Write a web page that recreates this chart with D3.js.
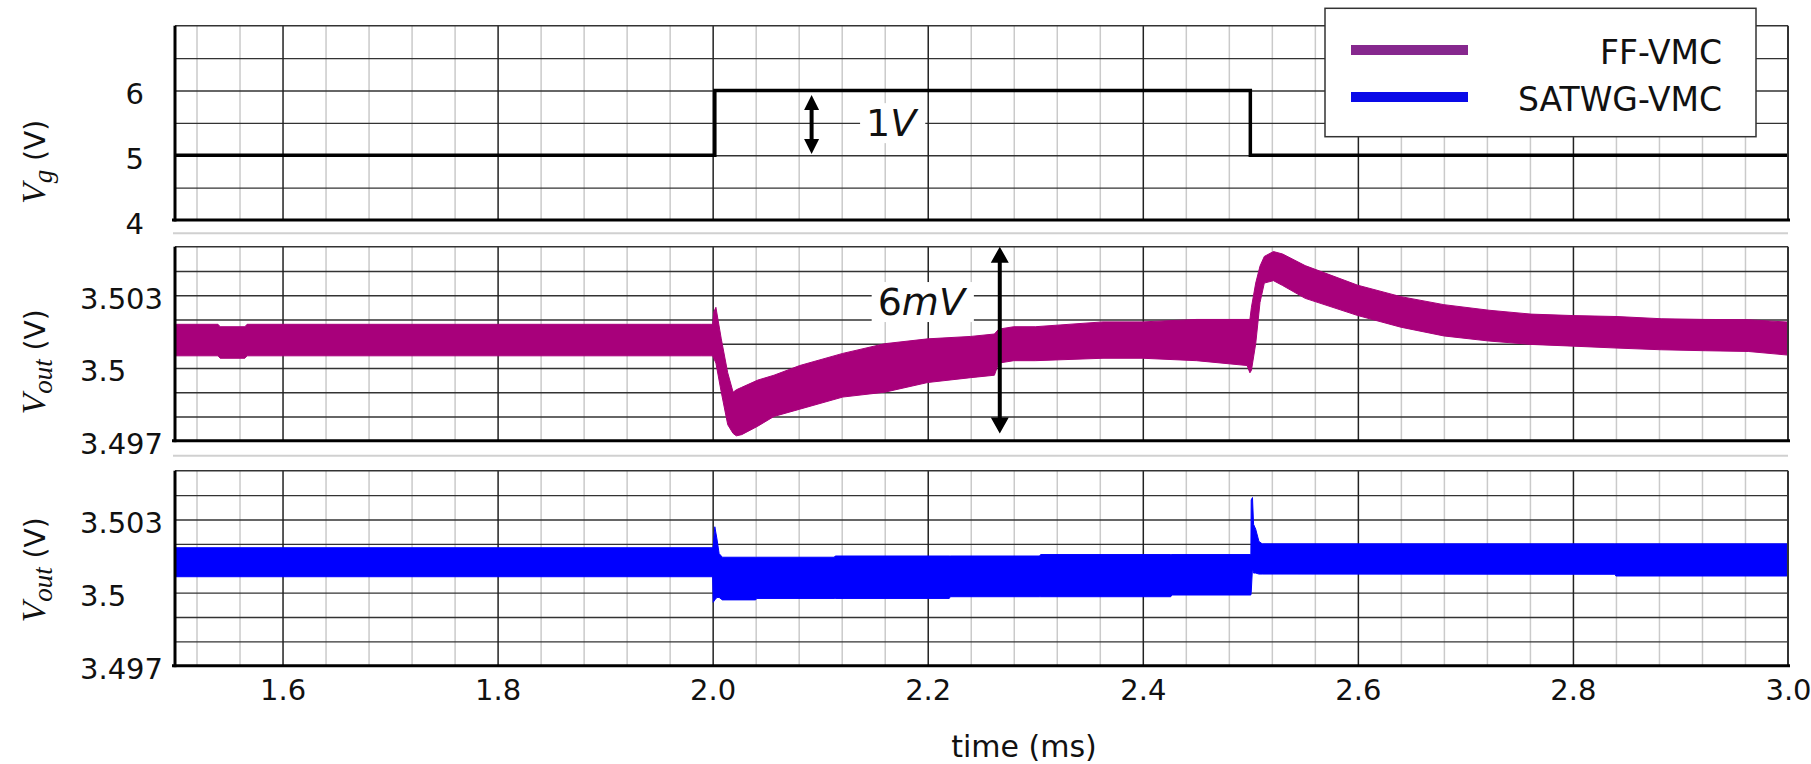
<!DOCTYPE html>
<html lang="en">
<head>
<meta charset="utf-8">
<title>Vg step and Vout response</title>
<script src="https://cdn.jsdelivr.net/npm/d3@7"></script>
<style>
body { margin: 0; background: #fff; }
text { font-family: "DejaVu Sans", sans-serif; fill: #111; }
</style>
</head>
<body>
<script>
// ---- data ----
var timeTicks = [1.6, 1.8, 2.0, 2.2, 2.4, 2.6, 2.8, 3.0];

var vgTicks = [4, 5, 6];
var vgTickLabels = ["4", "5", "6"];
var voutTicks = [3.497, 3.5, 3.503];
var voutTickLabels = ["3.497", "3.5", "3.503"];

var seriesNames = ["FF-VMC", "SATWG-VMC"];

// input voltage step
var vgTime  = [1.5, 2.002, 2.002, 2.5, 2.5, 3.0];
var vgValue = [5, 5, 6, 6, 5, 5];

// FF-VMC output: ripple band (upper / lower envelope)
var ffTime  = [1.50, 1.540, 1.542, 1.565, 1.567, 1.990, 2.000, 2.001, 2.003, 2.008, 2.014, 2.019,
               2.022, 2.027, 2.042, 2.057, 2.081, 2.121, 2.160, 2.200, 2.240, 2.262, 2.266, 2.280,
               2.300, 2.363, 2.400, 2.450, 2.497, 2.4996, 2.501, 2.505, 2.509, 2.513, 2.5215, 2.530,
               2.551, 2.600, 2.640, 2.680, 2.722, 2.761, 2.800, 2.841, 2.882, 2.923, 2.963, 3.000];
var ffUpper = [3.5018, 3.5018, 3.5017, 3.5017, 3.5018, 3.5018, 3.5018, 3.5023, 3.5025, 3.5012, 3.4998, 3.4990,
               3.4991, 3.4992, 3.4995, 3.4997, 3.5001, 3.5006, 3.5010, 3.5012, 3.5013, 3.5014, 3.5016, 3.5017,
               3.5017, 3.5019, 3.5019, 3.5020, 3.5020, 3.5020, 3.5025, 3.5035, 3.5042, 3.5046, 3.5048, 3.5047,
               3.50422, 3.50341, 3.50294, 3.50261, 3.50238, 3.50222, 3.50216, 3.50212, 3.50203, 3.50200, 3.50199, 3.50189];
var ffLower = [3.5005, 3.5005, 3.5004, 3.5004, 3.5005, 3.5005, 3.5005, 3.5004, 3.5002, 3.4990, 3.49766, 3.4973,
               3.4972, 3.49725, 3.4976, 3.4980, 3.4983, 3.4988, 3.4990, 3.4994, 3.4996, 3.4997, 3.5002, 3.5003,
               3.5003, 3.5004, 3.5004, 3.5003, 3.5001, 3.4998, 3.4999, 3.5010, 3.5027, 3.5035, 3.5036, 3.5034,
               3.50287, 3.50216, 3.50168, 3.50132, 3.50111, 3.50097, 3.50090, 3.50082, 3.50075, 3.50071, 3.50068, 3.50053];

// SATWG-VMC output
var satTime  = [1.50, 2.000, 2.0005, 2.002, 2.004, 2.006, 2.009, 2.040, 2.041, 2.113, 2.114, 2.220, 2.221,
                2.304, 2.305, 2.426, 2.427, 2.5005, 2.5008, 2.502, 2.503, 2.505, 2.508, 2.511, 2.839, 2.840, 3.000];
var satUpper = [3.50184, 3.50184, 3.5019, 3.5027, 3.5022, 3.5016, 3.50145, 3.50145, 3.50145, 3.50145, 3.5015, 3.5015, 3.5015,
                3.5015, 3.50156, 3.50156, 3.50156, 3.50156, 3.5038, 3.5039, 3.5028, 3.5026, 3.5021, 3.5020, 3.5020, 3.5020, 3.5020];
var satLower = [3.50065, 3.50065, 3.4996, 3.4997, 3.4998, 3.4998, 3.4997, 3.4997, 3.49976, 3.49976, 3.49976, 3.49976, 3.49983,
                3.49983, 3.49983, 3.49983, 3.4999, 3.4999, 3.5000, 3.5010, 3.5008, 3.5008, 3.50076, 3.50076, 3.50075, 3.50068, 3.50068];

// annotations (data coordinates)
var vgArrow   = {t: 2.092, lo: 5.02, hi: 5.93, labelT: 2.166, labelV: 5.5, num: "1", unit: "V"};
var voutArrow = {t: 2.267, lo: 3.4973, hi: 3.505, labelT: 2.194, labelV: 3.50273, num: "6", unit: "mV"};

// ---- layout ----
var w = 1811, h = 764;
var left = 175, right = 1788;
var purple = "#a8007b", blue = "#0000ff";

var svg = d3.select("body").append("svg")
    .attr("width", w)
    .attr("height", h);

var x = d3.scaleLinear().domain([1.5, 3.0]).range([left, right]);

var panels = [
    {top: 25.7, bottom: 220, domain: [4, 7], step: 0.5, ticks: vgTicks, labels: vgTickLabels, labelX: 144, anchor: "end", titleY: 162, sub: "g"},
    {top: 246.7, bottom: 440.7, domain: [3.497, 3.505], step: 0.001, ticks: voutTicks, labels: voutTickLabels, labelX: 80, anchor: "start", titleY: 362, sub: "out"},
    {top: 470.7, bottom: 665.7, domain: [3.497, 3.505], step: 0.001, ticks: voutTicks, labels: voutTickLabels, labelX: 80, anchor: "start", titleY: 570, sub: "out"}
];

// minor / major vertical grid positions
var minorT = [], majorT = [];
d3.range(0, 37).forEach(function(k) {
    var t = 1.52 + 0.04 * k;
    if (k % 5 === 2) majorT.push(t); else minorT.push(t);
});

panels.forEach(function(p) {
    p.y = d3.scaleLinear().domain(p.domain).range([p.bottom, p.top]);
    var g = svg.append("g");
    var ph = p.bottom - p.top;
    var n = Math.round((p.domain[1] - p.domain[0]) / p.step);
    var hVals = d3.range(1, n).map(function(i) { return p.domain[0] + i * p.step; });

    // light minor verticals
    g.append("g")
        .attr("transform", "translate(0," + p.bottom + ")")
        .call(d3.axisBottom(x).tickValues(minorT).tickSize(-ph).tickFormat(""))
        .call(function(a) { a.select(".domain").remove(); })
        .selectAll("line").attr("stroke", "#cacaca").attr("stroke-width", 1.5);

    // horizontal grid
    g.append("g")
        .attr("transform", "translate(" + left + ",0)")
        .call(d3.axisLeft(p.y).tickValues(hVals).tickSize(-(right - left)).tickFormat(""))
        .call(function(a) { a.select(".domain").remove(); })
        .selectAll("line").attr("stroke", "#333").attr("stroke-width", 1.4);

    // major verticals
    g.append("g")
        .attr("transform", "translate(0," + p.bottom + ")")
        .call(d3.axisBottom(x).tickValues(majorT).tickSize(-ph).tickFormat(""))
        .call(function(a) { a.select(".domain").remove(); })
        .selectAll("line").attr("stroke", "#222").attr("stroke-width", 1.5);

    p.g = g;
});

// ---- data marks ----
var vgLine = d3.line()
    .x(function(d) { return x(d[0]); })
    .y(function(d) { return panels[0].y(d[1]); });

svg.append("path")
    .datum(d3.zip(vgTime, vgValue))
    .attr("d", vgLine)
    .attr("fill", "none")
    .attr("stroke", "#000")
    .attr("stroke-width", 3.5);

function band(p, t, hi, lo, color) {
    var area = d3.area()
        .x(function(d) { return x(d[0]); })
        .y0(function(d) { return p.y(d[2]); })
        .y1(function(d) { return p.y(d[1]); });
    svg.append("path")
        .datum(d3.zip(t, hi, lo))
        .attr("d", area)
        .attr("fill", color)
        .attr("stroke", color)
        .attr("stroke-width", 1);
}
band(panels[1], ffTime, ffUpper, ffLower, purple);
band(panels[2], satTime, satUpper, satLower, blue);

// ---- frames ----
panels.forEach(function(p) {
    var f = svg.append("g");
    f.append("line").attr("x1", left).attr("x2", right).attr("y1", p.top).attr("y2", p.top)
        .attr("stroke", "#333").attr("stroke-width", 1.5);
    f.append("line").attr("x1", right).attr("x2", right).attr("y1", p.top).attr("y2", p.bottom)
        .attr("stroke", "#333").attr("stroke-width", 2);
    f.append("line").attr("x1", left).attr("x2", left).attr("y1", p.top).attr("y2", p.bottom + 1.5)
        .attr("stroke", "#000").attr("stroke-width", 3);
    f.append("line").attr("x1", left - 3).attr("x2", right + 2).attr("y1", p.bottom).attr("y2", p.bottom)
        .attr("stroke", "#000").attr("stroke-width", 3);

    // y tick labels
    var ax = f.append("g")
        .attr("transform", "translate(" + left + ",0)")
        .call(d3.axisLeft(p.y).tickValues(p.ticks).tickSize(0)
            .tickFormat(function(d, i) { return p.labels[i]; }));
    ax.select(".domain").remove();
    ax.selectAll("text")
        .attr("x", p.labelX - left)
        .attr("dy", "0.38em")
        .attr("y", 2)
        .attr("text-anchor", p.anchor)
        .attr("font-family", "DejaVu Sans, sans-serif")
        .attr("font-size", 29)
        .attr("fill", "#111");

    // y title
    var tt = svg.append("text")
        .attr("transform", "translate(45," + p.titleY + ") rotate(-90)")
        .attr("text-anchor", "middle");
    tt.append("tspan").text("V")
        .attr("font-family", "Liberation Serif, serif").attr("font-style", "italic").attr("font-size", 34);
    tt.append("tspan").text(p.sub).attr("dy", 7)
        .attr("font-family", "Liberation Serif, serif").attr("font-style", "italic").attr("font-size", 27);
    tt.append("tspan").text("\u00a0(V)").attr("dy", -7)
        .attr("font-size", 28);
});

// separators
[233.3, 455.7].forEach(function(yy) {
    svg.append("line").attr("x1", left - 2).attr("x2", right).attr("y1", yy).attr("y2", yy)
        .attr("stroke", "#d0d0d0").attr("stroke-width", 2);
});

// x tick labels
var xa = svg.append("g")
    .attr("transform", "translate(0," + panels[2].bottom + ")")
    .call(d3.axisBottom(x).tickValues(timeTicks).tickSize(0).tickFormat(d3.format(".1f")));
xa.select(".domain").remove();
xa.selectAll("text")
    .attr("y", 700 - panels[2].bottom)
    .attr("dy", 0)
    .attr("font-family", "DejaVu Sans, sans-serif")
    .attr("font-size", 29)
    .attr("fill", "#111");

svg.append("text")
    .attr("x", 1024).attr("y", 757)
    .attr("text-anchor", "middle")
    .attr("font-size", 30)
    .text("time (ms)");

// ---- annotations ----
function vArrow(p, a, headW, headH) {
    var xp = x(a.t), yTop = p.y(a.hi), yBot = p.y(a.lo);
    var g = svg.append("g");
    g.append("line").attr("x1", xp).attr("x2", xp)
        .attr("y1", yTop + headH - 2).attr("y2", yBot - headH + 2)
        .attr("stroke", "#000").attr("stroke-width", 4);
    g.append("path")
        .attr("d", "M" + xp + "," + yTop + "L" + (xp - headW / 2) + "," + (yTop + headH) + "L" + (xp + headW / 2) + "," + (yTop + headH) + "Z" +
                   "M" + xp + "," + yBot + "L" + (xp - headW / 2) + "," + (yBot - headH) + "L" + (xp + headW / 2) + "," + (yBot - headH) + "Z")
        .attr("fill", "#000");

    var lg = svg.append("g");
    var bg = lg.append("rect").attr("fill", "#fff");
    var txt = lg.append("text")
        .attr("x", x(a.labelT)).attr("y", p.y(a.labelV))
        .attr("dy", "0.35em")
        .attr("text-anchor", "middle")
        .attr("font-family", "Liberation Serif, serif")
        .attr("font-size", 38);
    txt.append("tspan").text(a.num);
    txt.append("tspan").text(a.unit).attr("font-style", "italic");
    var bb = txt.node().getBBox();
    bg.attr("x", bb.x - 6).attr("y", bb.y + 2).attr("width", bb.width + 12).attr("height", bb.height - 4);
}
vArrow(panels[0], vgArrow, 15, 15);
vArrow(panels[1], voutArrow, 18, 16);

// ---- legend ----
var legend = svg.append("g");
legend.append("rect")
    .attr("x", 1325).attr("y", 8.3).attr("width", 431).attr("height", 128.4)
    .attr("fill", "#fff").attr("stroke", "#333").attr("stroke-width", 1.5);
var legendColors = ["#86288e", "#0a0ae8"];
seriesNames.forEach(function(name, i) {
    var yy = 50 + i * 47;
    legend.append("line")
        .attr("x1", 1351).attr("x2", 1468).attr("y1", yy).attr("y2", yy)
        .attr("stroke", legendColors[i]).attr("stroke-width", 10);
    legend.append("text")
        .attr("x", 1722).attr("y", yy + 2)
        .attr("dy", "0.35em")
        .attr("text-anchor", "end")
        .attr("font-size", 33)
        .text(name);
});
</script>
</body>
</html>
